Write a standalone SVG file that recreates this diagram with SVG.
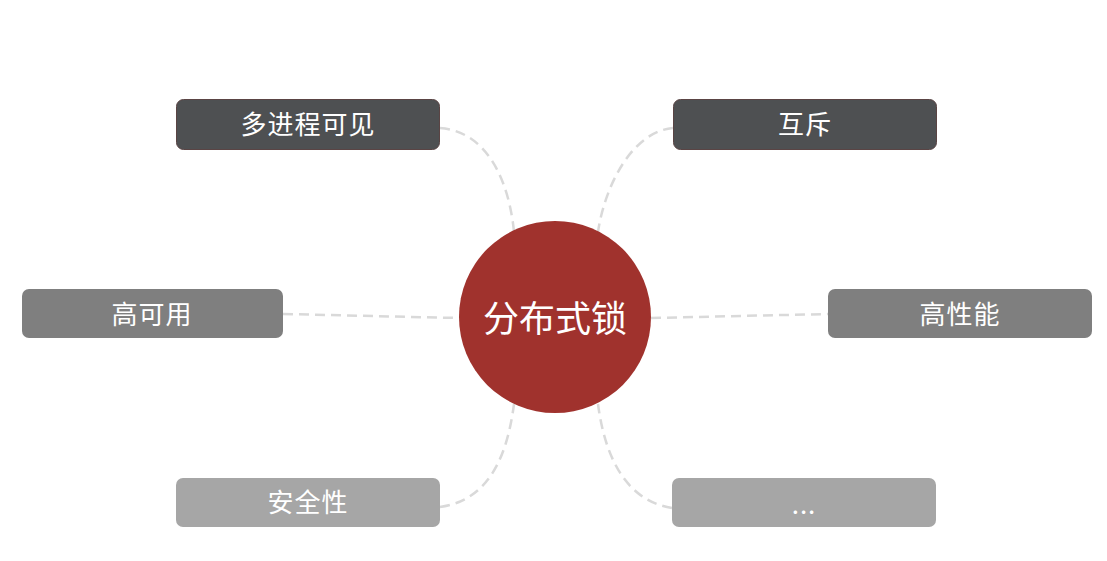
<svg xmlns="http://www.w3.org/2000/svg" width="1107" height="561" viewBox="0 0 1107 561">
<style>
.t{font-family:"Noto Sans CJK SC","Noto Sans",sans-serif;fill:#ffffff;text-anchor:middle;dominant-baseline:central;font-size:26px;letter-spacing:1px}
.c{fill:none;stroke:#d9d9d9;stroke-width:2.5;stroke-dasharray:10 6}
.d{fill:#4e5052;stroke:#5a4444;stroke-width:1}
.m{fill:#7f7f7f}
.l{fill:#a6a6a6}
</style>
<rect width="1107" height="561" fill="#ffffff"/>
<g id="connectors">
<path class="c" d="M440,128 C492,132 510,190 514,232"/>
<path class="c" d="M673,128 C630,132 604,190 598,232"/>
<path class="c" d="M283,314 L459,318"/>
<path class="c" d="M651,318 L828,314"/>
<path class="c" d="M440,507 C492,500 508,450 514,404"/>
<path class="c" d="M672,508 C622,500 604,450 598,404"/>
</g>
<g id="center">
<circle cx="555" cy="317" r="96" fill="#a0322d"/>
<text class="t" x="555" y="316" style="font-size:36px;letter-spacing:0">分布式锁</text>
</g>
<g id="n1">
<rect class="d" x="176.5" y="99.5" width="263" height="50" rx="7"/>
<text class="t" x="308" y="122">多进程可见</text>
</g>
<g id="n2">
<rect class="d" x="673.5" y="99.5" width="263" height="50" rx="7"/>
<text class="t" x="805" y="122">互斥</text>
</g>
<g id="n3">
<rect class="m" x="22" y="289" width="261" height="49" rx="7"/>
<text class="t" x="152" y="312">高可用</text>
</g>
<g id="n4">
<rect class="m" x="828" y="289" width="264" height="49" rx="7"/>
<text class="t" x="960" y="312">高性能</text>
</g>
<g id="n5">
<rect class="l" x="176" y="478" width="264" height="49" rx="7"/>
<text class="t" x="308" y="500">安全性</text>
</g>
<g id="n6">
<rect class="l" x="672" y="478" width="264" height="49" rx="7"/>
<text class="t" x="804" y="502">...</text>
</g>
</svg>
